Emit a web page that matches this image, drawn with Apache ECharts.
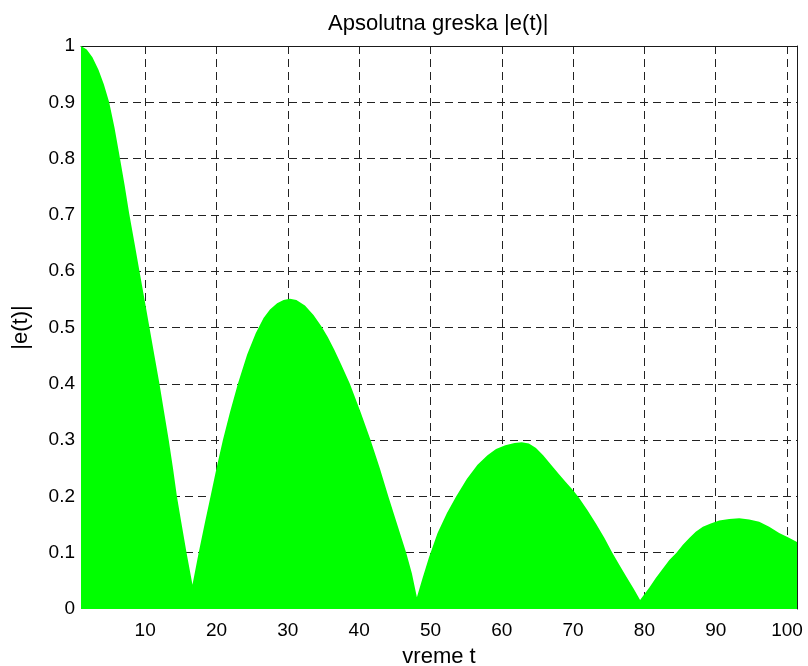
<!DOCTYPE html>
<html>
<head>
<meta charset="utf-8">
<title>Apsolutna greska |e(t)|</title>
<script src="https://cdn.jsdelivr.net/npm/echarts@6/dist/echarts.min.js"></script>
<style>
  html, body { margin: 0; padding: 0; background: #fff; }
  #chart { width: 808px; height: 666px; }
</style>
</head>
<body>
<div id="chart"></div>
<script>
// time samples of the solver output
const tValues = [
  1.0, 1.8, 2.6, 3.45, 4.2, 4.95, 5.7, 6.4, 7.1, 7.75,
  8.5, 9.2, 9.9, 10.6, 11.3, 12.0, 12.65, 13.3, 13.9, 14.45,
  15.05, 15.8, 16.63, 17.5, 18.4, 19.2, 20.0, 20.9, 21.9, 23.0,
  24.3, 25.5, 26.6, 27.5, 28.5, 29.4, 30.3, 31.2, 32.4, 33.6,
  34.7, 35.6, 36.5, 37.5, 38.7, 40.2, 41.6, 42.9, 44.1, 45.4,
  46.6, 47.4, 48.1, 48.9, 49.8, 51.0, 52.3, 53.6, 55.1, 56.6,
  58.0, 59.2, 60.5, 61.8, 62.8, 63.8, 64.8, 65.8, 67.0, 68.0,
  69.0, 70.0, 70.8, 72.0, 73.2, 74.4, 75.5, 76.5, 77.5, 78.5,
  79.4, 80.7, 81.6, 82.6, 83.5, 84.5, 85.4, 86.3, 87.2, 88.2,
  89.3, 90.5, 91.9, 93.3, 94.7, 96.1, 97.5, 98.9, 100.2, 101.4
];

// absolute error |e(t)| at those samples
const errValues = [
  1.000, 0.994, 0.980, 0.958, 0.932, 0.900, 0.855, 0.805, 0.754, 0.703,
  0.650, 0.600, 0.550, 0.500, 0.450, 0.400, 0.350, 0.300, 0.250, 0.200,
  0.155, 0.100, 0.043, 0.100, 0.155, 0.202, 0.250, 0.300, 0.350, 0.400,
  0.452, 0.490, 0.517, 0.532, 0.543, 0.549, 0.551, 0.549, 0.539, 0.522,
  0.502, 0.483, 0.461, 0.434, 0.400, 0.350, 0.300, 0.250, 0.200, 0.148,
  0.100, 0.063, 0.021, 0.055, 0.092, 0.135, 0.170, 0.200, 0.231, 0.256,
  0.273, 0.284, 0.291, 0.295, 0.296, 0.294, 0.286, 0.273, 0.255, 0.240,
  0.225, 0.211, 0.198, 0.176, 0.152, 0.126, 0.100, 0.078, 0.057, 0.036,
  0.016, 0.038, 0.055, 0.072, 0.087, 0.100, 0.114, 0.126, 0.137, 0.146,
  0.152, 0.157, 0.160, 0.161, 0.159, 0.155, 0.146, 0.135, 0.127, 0.119
];

// axis tick positions and labels
const xTicks = [10, 20, 30, 40, 50, 60, 70, 80, 90, 100];
const yTicks = [0, 0.1, 0.2, 0.3, 0.4, 0.5, 0.6, 0.7, 0.8, 0.9, 1];
// dashed grid rows (the zero row sits under the filled area)
const yGridRows = [0.1, 0.2, 0.3, 0.4, 0.5, 0.6, 0.7, 0.8, 0.9, 1];

const points = tValues.map((t, i) => [t, errValues[i]]);

const FONT = '"Liberation Sans", Arial, Helvetica, sans-serif';
const X_MIN = 1, X_MAX = 101.4;
const gridDash = { type: [8, 5], color: '#222', width: 1 };

const chart = echarts.init(document.getElementById('chart'), null, { renderer: 'canvas' });

chart.setOption({
  animation: false,
  backgroundColor: '#ffffff',
  title: {
    text: 'Apsolutna greska |e(t)|',
    left: 328,
    top: 13,
    padding: 0,
    textStyle: { fontFamily: FONT, fontSize: 22, fontWeight: 'normal', color: '#000' }
  },
  grid: {
    left: 81, right: 11, top: 46, bottom: 57,
    containLabel: false,
    outerBoundsMode: 'none'
  },
  xAxis: [
    {
      type: 'value',
      min: X_MIN,
      max: X_MAX,
      name: 'vreme t',
      nameLocation: 'middle',
      nameGap: 37,
      nameTextStyle: { fontFamily: FONT, fontSize: 22, color: '#000' },
      axisLine: { show: false },
      axisTick: { show: false, customValues: xTicks },
      axisLabel: {
        customValues: xTicks,
        margin: 12,
        fontFamily: FONT,
        fontSize: 19,
        color: '#000'
      },
      splitLine: { show: true, lineStyle: gridDash }
    },
    {
      // top frame edge
      type: 'value',
      position: 'top',
      min: X_MIN,
      max: X_MAX,
      axisLine: { show: true, onZero: false, lineStyle: { color: '#1a1a1a', width: 1 } },
      axisTick: { show: false },
      axisLabel: { show: false },
      splitLine: { show: false }
    }
  ],
  yAxis: [
    {
      type: 'value',
      min: 0,
      max: 1,
      interval: 0.1,
      name: '|e(t)|',
      nameLocation: 'middle',
      nameGap: 49,
      nameTextStyle: { fontFamily: FONT, fontSize: 22, color: '#000' },
      axisLine: { show: false },
      axisTick: { show: false, customValues: yGridRows },
      axisLabel: {
        customValues: yTicks,
        margin: 6,
        fontFamily: FONT,
        fontSize: 19,
        color: '#000',
        formatter: v => String(+Number(v).toFixed(1))
      },
      splitLine: { show: true, lineStyle: gridDash }
    },
    {
      // right frame edge
      type: 'value',
      position: 'right',
      min: 0,
      max: 1,
      interval: 0.1,
      axisLine: { show: true, onZero: false, lineStyle: { color: '#1a1a1a', width: 1 } },
      axisTick: { show: false },
      axisLabel: { show: false },
      splitLine: { show: false }
    }
  ],
  series: [
    {
      type: 'line',
      xAxisIndex: 0,
      yAxisIndex: 0,
      data: points,
      showSymbol: false,
      symbol: 'none',
      lineStyle: { width: 0, color: '#00ff00' },
      areaStyle: { color: '#00ff00', opacity: 1 },
      itemStyle: { color: '#00ff00' },
      z: 3
    }
  ]
});
</script>
</body>
</html>
